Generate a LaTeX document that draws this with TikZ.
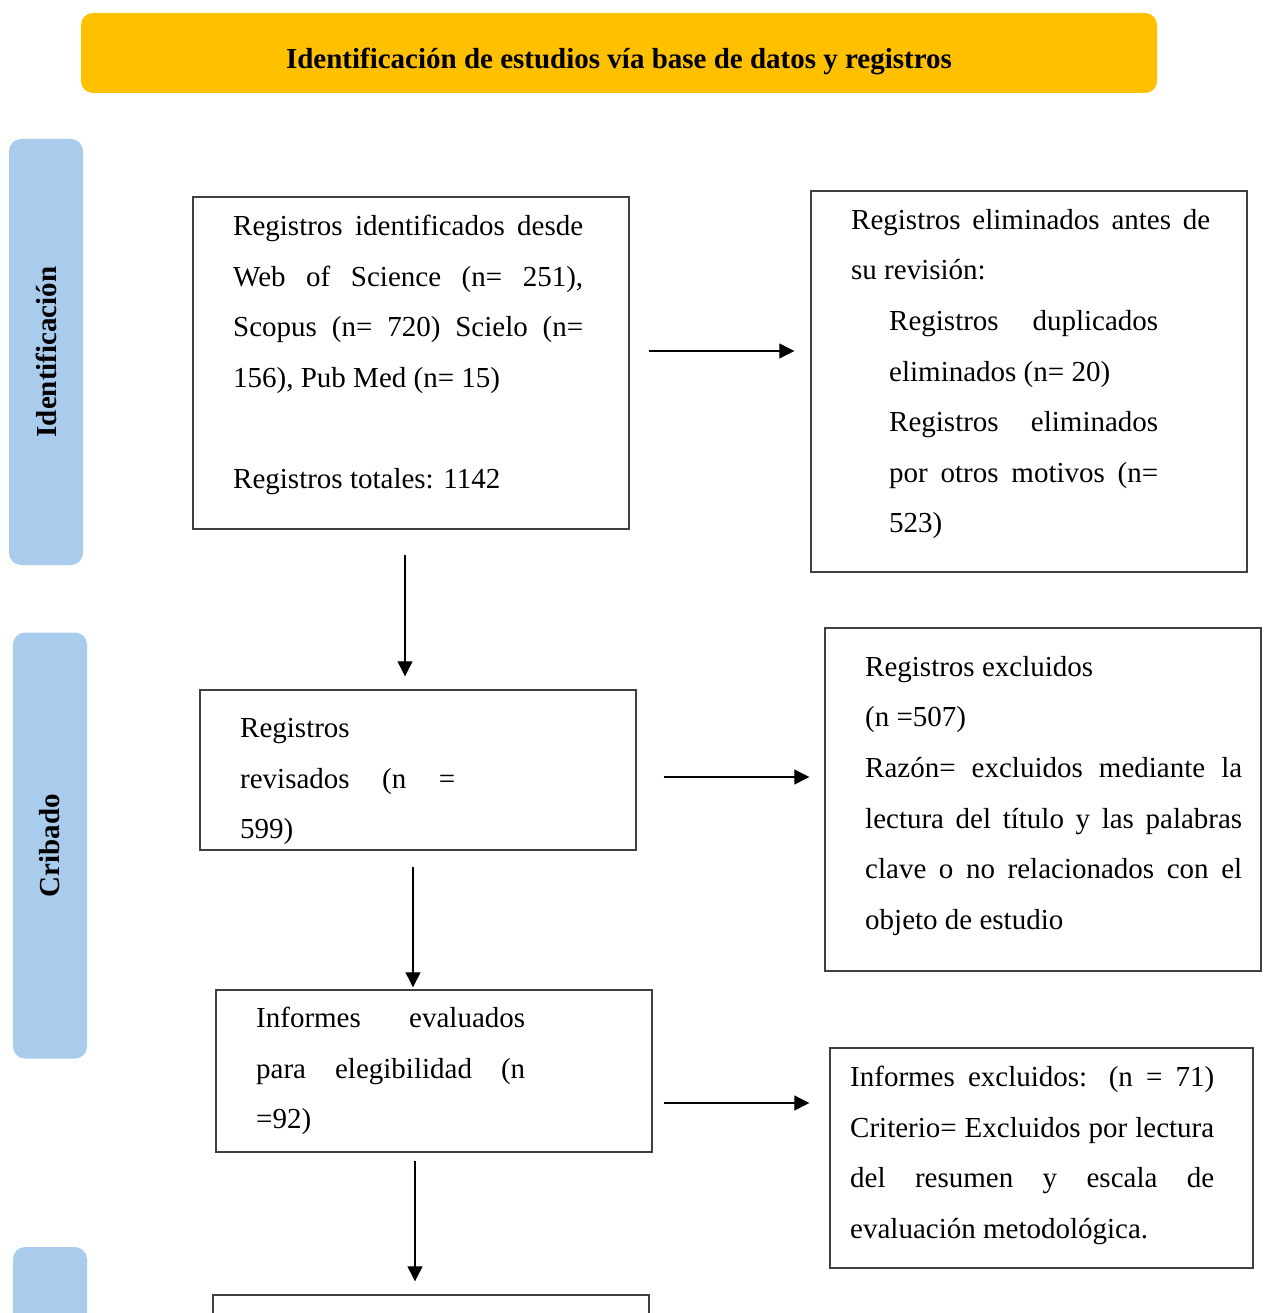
\documentclass[tikz,border=0pt]{standalone}
\usepackage{fontspec}
\setmainfont{Liberation Serif}
\usetikzlibrary{positioning,
        arrows.meta,
        calc}
\usepackage{xcolor}
\definecolor{cabecera}{HTML}{FFC000}
\definecolor{etapa}{HTML}{A9CBEC}
\definecolor{borde}{HTML}{404040}
\setlength{\parindent}{0pt}

\begin{document}
\begin{tikzpicture}[x=1pt,y=-1pt,
        caja/.style={draw=borde,line width=1.4pt,inner sep=0pt},
        texto/.style={anchor=north west,inner sep=0pt,align=justify,font=\fontsize{29}{50.6}\selectfont},
        fase/.style={fill=etapa,rounded corners=12pt,rotate=90,minimum width=426pt,minimum height=74pt,inner sep=0pt,font=\fontsize{29}{35}\selectfont\bfseries},
        flecha/.style={-{Triangle[length=15pt,width=15pt]},line width=1.1pt}]
            \useasboundingbox (0,0) rectangle (1268,1313);
            \clip (0,0) rectangle (1268,1313);

            \node [fill=cabecera,rounded corners=12pt,minimum width=1076pt,minimum height=80pt,text height=38pt,text depth=6pt,font=\fontsize{29}{35}\selectfont\bfseries] (titulo) at (619,53) {Identificación de estudios vía base de datos y registros};

            \node [fase] (identificacion) at (46,352) {Identificación};
            \node [fase] (cribado) at (50,845.5) {Cribado};
            \node [fase] (incluidos) at (50,1460) {};

            \node [caja,minimum width=436pt,minimum height=332pt] (registros) at (411,363) {};
            \node [texto,text width=350pt] (registrostxt) at (233,215) {Registros identificados desde\linebreak Web of Science (n= 251),\linebreak Scopus (n= 720) Scielo (n=\linebreak 156), Pub Med (n= 15)\\[50.6pt] Registros totales: 1142};

            \node [caja,minimum width=436pt,minimum height=381pt] (eliminados) at (1029,381.5) {};
            \node [texto,text width=359pt] (eliminadostxt) at (851,209) {Registros eliminados antes de\linebreak su revisión:\par
                {\leftskip=38pt \rightskip=52pt Registros duplicados\linebreak eliminados (n= 20)\\ Registros eliminados\linebreak por otros motivos (n=\linebreak 523)\par}};

            \node [caja,minimum width=436pt,minimum height=160pt] (revisados) at (418,770) {};
            \node [texto,text width=215pt] (revisadostxt) at (240,718) {Registros\\ revisados (n =\linebreak 599)};

            \node [caja,minimum width=436pt,minimum height=343pt] (excluidos) at (1043,799.5) {};
            \node [texto,text width=377pt] (excluidostxt) at (865,656) {Registros excluidos\\ (n =507)\\ Razón= excluidos mediante la\linebreak lectura del título y las palabras\linebreak clave o no relacionados con el\linebreak objeto de estudio};

            \node [caja,minimum width=436pt,minimum height=162pt] (informes) at (434,1071) {};
            \node [texto,text width=269pt] (informestxt) at (256,1007) {Informes evaluados\linebreak para elegibilidad (n\linebreak =92)};

            \node [caja,minimum width=423pt,minimum height=220pt] (criterio) at (1041.5,1158) {};
            \node [texto,text width=364pt] (criteriotxt) at (850,1066) {Informes excluidos: (n = 71)\linebreak Criterio= Excluidos por lectura\linebreak del resumen y escala de\linebreak evaluación metodológica.};

            \node [caja,minimum width=436pt,minimum height=160pt] (incluidosbox) at (431,1375) {};

            \draw [flecha,shorten <=19pt,shorten >=16pt] ([yshift=12pt]registros.east) -- ([yshift=12pt]registros.east -| eliminados.west);
            \draw [flecha,shorten <=25pt,shorten >=13pt] ([xshift=-6pt]registros.south) -- ([xshift=-6pt]registros.south |- revisados.north);
            \draw [flecha,shorten <=27pt,shorten >=15pt] ([yshift=-7pt]revisados.east) -- ([yshift=-7pt]revisados.east -| excluidos.west);
            \draw [flecha,shorten <=16pt,shorten >=2pt] ([xshift=-5pt]revisados.south) -- ([xshift=-5pt]revisados.south |- informes.north);
            \draw [flecha,shorten <=11pt,shorten >=20pt] ([yshift=-32pt]informes.east) -- ([yshift=-32pt]informes.east -| criterio.west);
            \draw [flecha,shorten <=8pt,shorten >=13pt] ([xshift=-19pt]informes.south) -- ([xshift=-19pt]informes.south |- incluidosbox.north);
        \end{tikzpicture}
\end{document}
